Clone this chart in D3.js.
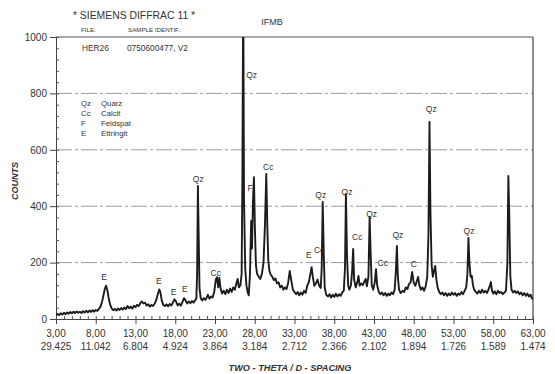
<!DOCTYPE html>
<html><head><meta charset="utf-8">
<script src="https://cdn.jsdelivr.net/npm/d3@7"></script>
<style>
html,body{margin:0;padding:0;background:#fff;}
svg text{font-family:"Liberation Sans",Arial,sans-serif;fill:#333;}
</style></head>
<body><svg id="c" width="555" height="374"></svg>
<script>
// ---- data (2-theta in degrees, counts) ----
const scanA = [[3.0,12],[3.2,18],[3.4,14],[3.6,20],[3.8,16],[4.0,22],[4.2,17],[4.4,23],[4.6,19],[4.8,25],[5.0,20],[5.2,26],[5.4,21],[5.6,27],[5.8,22],[6.0,26],[6.2,21],[6.4,28],[6.6,23],[6.8,29],[7.0,24],[7.2,30],[7.4,25],[7.6,31],[7.8,26],[8.0,32],[8.2,29],[8.4,36],[8.6,44],[8.8,62],[9.0,88],[9.15,108],[9.3,118],[9.45,104],[9.6,78],[9.8,52],[10.0,38],[10.2,31],[10.4,36],[10.6,30],[10.8,37],[11.0,32],[11.2,39],[11.4,33],[11.6,41],[11.8,35],[12.0,46],[12.2,38],[12.4,44],[12.6,37],[12.8,47],[13.0,42],[13.2,50],[13.4,46],[13.6,56],[13.8,62],[14.0,55],[14.2,58],[14.4,48],[14.6,52],[14.8,44],[15.0,50],[15.2,46],[15.4,54],[15.6,66],[15.8,88],[16.0,105],[16.15,92],[16.3,66],[16.5,50],[16.7,46],[16.9,52],[17.1,45],[17.3,53],[17.5,48],[17.7,58],[17.9,70],[18.1,62],[18.3,48],[18.5,54],[18.7,47],[18.9,60],[19.1,74],[19.3,66],[19.5,55],[19.7,62],[19.9,56],[20.1,64],[20.3,58],[20.5,66]];
const scanB = [[20.65,72],[20.75,160],[20.85,472],[20.95,290],[21.05,110],[21.2,74],[21.4,66],[21.6,74],[21.8,68],[22.0,78],[22.1,86],[22.3,72],[22.5,80],[22.7,76],[22.9,96],[23.1,140],[23.25,148],[23.4,112],[23.55,146],[23.7,108],[23.9,90],[24.1,100],[24.3,88],[24.5,104],[24.7,92],[24.9,108],[25.1,96],[25.3,112],[25.5,104],[25.7,128],[25.85,142],[26.0,112],[26.2,120],[26.35,160],[26.45,520],[26.55,1200],[26.65,420],[26.8,180],[26.95,120],[27.1,96],[27.25,84],[27.4,160],[27.55,348],[27.65,250],[27.78,420],[27.9,503],[28.02,320],[28.15,190],[28.3,160],[28.5,150],[28.7,142],[28.9,160],[29.1,200],[29.28,330],[29.45,514],[29.58,330],[29.7,210],[29.85,170],[30.0,158],[30.2,150],[30.4,138],[30.6,144],[30.8,126],[31.0,130],[31.2,112],[31.4,118],[31.6,104],[31.8,112],[32.0,106],[32.2,128],[32.4,170],[32.6,136],[32.8,104],[33.0,96]];
const scanC = [[33.2,88],[33.4,96],[33.6,84],[33.8,94],[34.0,86],[34.2,100],[34.4,92],[34.6,118],[34.8,130],[35.0,160],[35.15,184],[35.3,150],[35.5,118],[35.7,126],[35.9,140],[36.1,118],[36.3,110],[36.42,180],[36.55,415],[36.68,230],[36.8,110],[37.0,86],[37.2,80],[37.4,88],[37.6,76],[37.8,86],[38.0,78],[38.2,90],[38.4,80],[38.6,88],[38.8,82],[39.0,94],[39.2,100],[39.35,180],[39.47,443],[39.6,230],[39.75,120],[39.9,104],[40.1,120],[40.25,170],[40.38,248],[40.5,140],[40.7,112],[40.9,130],[41.05,153],[41.2,118],[41.4,126],[41.6,120],[41.8,134],[41.95,142],[42.1,116],[42.3,150],[42.45,362],[42.58,230],[42.72,120],[42.9,104],[43.1,130],[43.25,177],[43.4,120],[43.6,96],[43.8,88],[44.0,94],[44.2,84],[44.4,92],[44.6,82],[44.8,90],[45.0,84],[45.2,94],[45.4,88],[45.6,104],[45.75,170],[45.88,259],[46.0,150],[46.15,104],[46.35,92],[46.6,100],[46.8,96],[47.0,112],[47.2,106],[47.4,124],[47.6,130],[47.8,167],[48.0,128],[48.2,118],[48.4,136]];
const scanD = [[48.55,149],[48.7,120],[48.9,104],[49.1,112],[49.3,100],[49.5,116],[49.7,150],[49.85,300],[49.98,699],[50.1,380],[50.25,190],[50.4,150],[50.55,170],[50.7,188],[50.85,140],[51.0,112],[51.2,96],[51.4,88],[51.6,94],[51.8,84],[52.0,92],[52.2,82],[52.4,90],[52.6,84],[52.8,94],[53.0,86],[53.2,92],[53.4,82],[53.6,90],[53.8,86],[54.0,96],[54.2,88],[54.4,100],[54.6,112],[54.75,160],[54.88,287],[55.0,200],[55.15,150],[55.3,153],[55.45,120],[55.6,104],[55.8,96],[56.0,90],[56.2,100],[56.4,92],[56.6,104],[56.8,94],[57.0,100],[57.2,92],[57.4,104],[57.6,120],[57.7,131],[57.85,100],[58.0,90],[58.2,98],[58.4,88],[58.6,100],[58.8,92],[59.0,96],[59.2,88],[59.4,94],[59.6,100],[59.78,200],[59.9,507],[60.02,360],[60.15,150],[60.3,104],[60.5,94],[60.7,100],[60.9,92],[61.1,98],[61.3,88],[61.5,94],[61.7,84],[61.9,92],[62.1,82],[62.3,90],[62.5,80],[62.7,86],[62.85,74],[63.0,70]];

const xTickTheta = ["3,00","8,00","13,00","18,00","23,00","28,00","33,00","38,00","43,00","48,00","53,00","58,00","63,00"];
const xTickD = ["29.425","11.042","6.804","4.924","3.864","3.184","2.712","2.366","2.102","1.894","1.726","1.589","1.474"];
const xTickValues = [3,8,13,18,23,28,33,38,43,48,53,58,63];
const yTickValues = [0,200,400,600,800,1000];
const gridValues = [200,400,600,800];

const legendCodes = ["Qz","Cc","F","E"];
const legendNames = ["Quarz","Calcit","Feldspat","Ettringit"];

const peakLabels = [["E",9.05,150],["E",15.95,135],["E",17.8,96],["E",19.2,106],["Qz",20.9,496],["Cc",23.1,163],["Qz",27.6,865],["F",27.4,464],["Cc",29.7,539],["E",34.8,227],["Cc",36.1,245],["Qz",36.3,440],["Qz",39.6,450],["Cc",40.9,291],["Qz",42.7,372],["Cc",44.1,199],["Qz",46.0,298],["C",48.0,195],["Qz",50.2,745],["Qz",54.95,312]];

// ---- chart ----
const scan = scanA.concat(scanB, scanC, scanD);
const svg = d3.select("#c");
const L = 56, R = 533, T = 37, B = 319;
const x = d3.scaleLinear().domain([3,63]).range([L,R]);
const y = d3.scaleLinear().domain([0,1000]).range([B,T]);

svg.append("defs").append("clipPath").attr("id","clip")
  .append("rect").attr("x",L).attr("y",T).attr("width",R-L).attr("height",B-T);

// grid
svg.append("g").selectAll("line").data(gridValues).join("line")
  .attr("x1",L).attr("x2",R).attr("y1",d=>y(d)).attr("y2",d=>y(d))
  .attr("stroke","#9a9a9a").attr("stroke-width",1).attr("stroke-dasharray","16,3,3,3");

// frame
svg.append("line").attr("x1",L).attr("x2",R).attr("y1",T).attr("y2",T).attr("stroke","#555").attr("stroke-width",1.2);
svg.append("line").attr("x1",R).attr("x2",R).attr("y1",T).attr("y2",B).attr("stroke","#444").attr("stroke-width",1.2);

// y axis
const yAxis = d3.axisLeft(y).tickValues(yTickValues).tickSize(6).tickPadding(3).tickFormat(d3.format("d"));
const gy = svg.append("g").attr("transform",`translate(${L},0)`).call(yAxis);
gy.select(".domain").attr("stroke","#444");
gy.selectAll(".tick line").attr("stroke","#444");
gy.selectAll(".tick text").attr("font-size",10).attr("fill","#333").attr("font-family","Liberation Sans, Arial, sans-serif");
const yMinor = d3.axisRight(y).tickValues(d3.range(0,1001,40)).tickSize(3).tickFormat("");
const gym = svg.append("g").attr("transform",`translate(${L},0)`).call(yMinor);
gym.select(".domain").remove(); gym.selectAll("line").attr("stroke","#555");

// x axis
const xAxis = d3.axisBottom(x).tickValues(xTickValues).tickSize(5).tickFormat("");
const gx = svg.append("g").attr("transform",`translate(0,${B})`).call(xAxis);
gx.select(".domain").attr("stroke","#444");
gx.selectAll(".tick line").attr("stroke","#444");
const xMinor = d3.axisTop(x).tickValues(d3.range(3,64,1)).tickSize(3).tickFormat("");
const gxm = svg.append("g").attr("transform",`translate(0,${B})`).call(xMinor);
gxm.select(".domain").remove(); gxm.selectAll("line").attr("stroke","#555");

const xl = svg.append("g");
xl.selectAll("text.t").data(xTickValues).join("text").attr("class","t")
  .attr("x",d=>x(d)).attr("y",337).attr("text-anchor","middle").attr("font-size",10).attr("fill","#444")
  .text((d,i)=>xTickTheta[i]);
xl.selectAll("text.d").data(xTickValues).join("text").attr("class","d")
  .attr("x",d=>x(d)).attr("y",350).attr("text-anchor","middle").attr("font-size",10).attr("fill","#444")
  .text((d,i)=>xTickD[i]);

// scan line
const line = d3.line().x(d=>x(d[0])).y(d=>y(d[1]));
svg.append("path").datum(scan).attr("clip-path","url(#clip)")
  .attr("d",line).attr("fill","none").attr("stroke","#1c1c1c").attr("stroke-width",1.9).attr("stroke-linejoin","round");

// peak labels
svg.append("g").selectAll("text").data(peakLabels).join("text")
  .attr("x",d=>x(d[1])).attr("y",d=>y(d[2])).attr("dy","0.35em").attr("text-anchor","middle")
  .attr("font-size",8.5).attr("fill","#333").text(d=>d[0]);

// legend
const lg = svg.append("g");
legendCodes.forEach((c,i)=>{
  lg.append("text").attr("x",81).attr("y",106+i*10).attr("font-size",7.8).text(c);
  lg.append("text").attr("x",101).attr("y",106+i*10).attr("font-size",7.8).text(legendNames[i]);
});

// header texts
svg.append("text").attr("x",134).attr("y",19).attr("text-anchor","middle").attr("font-size",10.4).attr("fill","#333").text("* SIEMENS DIFFRAC 11 *");
svg.append("text").attr("x",81).attr("y",32).attr("font-size",6.2).attr("fill","#444").text("FILE:");
svg.append("text").attr("x",128).attr("y",32).attr("font-size",6.2).attr("fill","#444").text("SAMPLE IDENTIF.:");
svg.append("text").attr("x",272).attr("y",25).attr("text-anchor","middle").attr("font-size",9).attr("fill","#333").text("IFMB");
svg.append("text").attr("x",82).attr("y",51).attr("font-size",8.3).attr("fill","#333").text("HER26");
svg.append("text").attr("x",127).attr("y",51).attr("font-size",8.3).attr("fill","#333").text("0750600477, V2");

// axis titles
svg.append("text").attr("transform","translate(18,181) rotate(-90)").attr("text-anchor","middle")
  .attr("font-size",9).attr("font-weight","bold").attr("font-style","italic").attr("fill","#333").text("COUNTS");
svg.append("text").attr("x",290).attr("y",371).attr("text-anchor","middle")
  .attr("font-size",9.2).attr("font-weight","bold").attr("font-style","italic").attr("fill","#333").text("TWO - THETA / D - SPACING");
</script></body></html>
